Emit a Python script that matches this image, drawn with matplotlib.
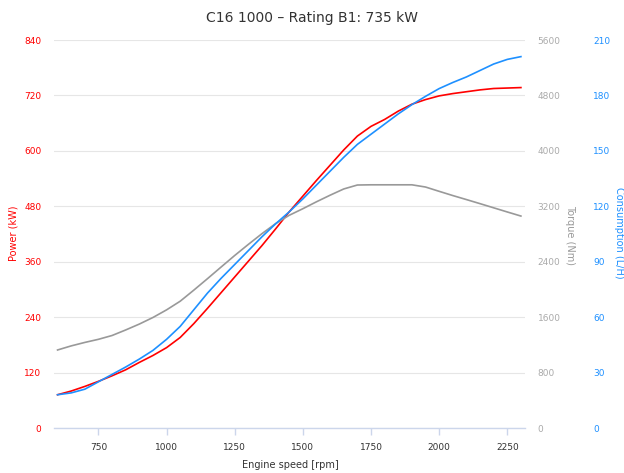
import matplotlib
matplotlib.use("Agg")
import matplotlib.pyplot as plt

# engine speed in rpm
rpm = [600, 650, 700, 750, 800, 850, 900, 950, 1000, 1050, 1100, 1150,
       1200, 1250, 1300, 1350, 1400, 1450, 1500, 1550, 1600, 1650, 1700,
       1750, 1800, 1850, 1900, 1950, 2000, 2050, 2100, 2150, 2200, 2250, 2300]

# values
power = [72, 80, 90, 101, 113, 126, 142, 157, 174, 196, 226, 259,
         293, 327, 361, 395, 431, 468, 502, 536, 569, 602, 632,
         653, 668, 686, 701, 711, 719, 724, 728, 732, 735, 736, 737]
torque = [1126, 1185, 1235, 1280, 1335, 1415, 1500, 1595, 1705, 1830, 1990, 2155,
          2323, 2490, 2650, 2805, 2950, 3070, 3165, 3265, 3360, 3450, 3507,
          3510, 3510, 3510, 3510, 3478, 3416, 3355, 3297, 3238, 3178, 3118, 3059]
consumption = [18, 19, 21, 25, 29, 33, 37.3, 42, 48, 55, 64, 73,
               81, 88.5, 96, 103.5, 110.5, 117, 124, 131.5, 139, 146.5, 153.5,
               159, 164.5, 170, 175, 179.5, 183.7, 187, 190, 193.5, 197, 199.5, 201]

x_ticks = [750, 1000, 1250, 1500, 1750, 2000, 2250]
power_ticks = [0, 120, 240, 360, 480, 600, 720, 840]
torque_ticks = [0, 800, 1600, 2400, 3200, 4000, 4800, 5600]
cons_ticks = [0, 30, 60, 90, 120, 150, 180, 210]

red = "#ff0000"
grey = "#999999"
blue = "#1e90ff"

W, H = 624, 473
fig = plt.figure(figsize=(W / 100, H / 100), dpi=100)
ax = fig.add_axes([54 / W, 1 - 428 / H, (525 - 54) / W, (428 - 40) / H])
ax2 = ax.twinx()
ax3 = ax.twinx()

ax.plot(rpm, power, color=red, lw=1.2, zorder=3)
ax2.plot(rpm, torque, color=grey, lw=1.2)
ax3.plot(rpm, consumption, color=blue, lw=1.2)

ax.set_xlim(587, 2315)
ax.set_ylim(0, 840)
ax2.set_ylim(0, 5600)
ax3.set_ylim(0, 210)

for a in (ax, ax2, ax3):
    for s in a.spines.values():
        s.set_visible(False)

ax.spines["bottom"].set_visible(True)
ax.spines["bottom"].set_color("#ccd6eb")
ax.spines["bottom"].set_linewidth(1)

ax.set_xticks(x_ticks)
ax.tick_params(axis="x", colors="#ccd6eb", length=5, width=1, labelsize=6.5,
               labelcolor="#333333", pad=6)

ax.set_yticks(power_ticks)
ax.tick_params(axis="y", length=0, labelsize=6.5, labelcolor=red, pad=9)
ax.grid(axis="y", color="#e6e6e6", lw=0.8)
ax.set_axisbelow(True)

ax2.set_yticks(torque_ticks)
ax2.tick_params(axis="y", length=0, labelsize=6.5, labelcolor="#aaaaaa", pad=9)
ax3.set_yticks(cons_ticks)
ax3.tick_params(axis="y", length=0, labelsize=6.5, labelcolor=blue, pad=49)

fig.text(312 / W, 1 - 18 / H, "C16 1000 – Rating B1: 735 kW", ha="center", va="center",
         fontsize=10, color="#333333")
fig.text(290 / W, 1 - 465 / H, "Engine speed [rpm]", ha="center", va="center",
         fontsize=7, color="#333333")
fig.text(14 / W, 1 - 233 / H, "Power (kW)", ha="center", va="center",
         rotation=90, fontsize=7, color=red)
fig.text(570 / W, 1 - 235 / H, "Torque (Nm)", ha="center", va="center",
         rotation=270, fontsize=7, color=grey)
fig.text(619 / W, 1 - 233 / H, "Consumption (L/H)", ha="center", va="center",
         rotation=270, fontsize=7, color=blue)

fig.savefig("out.png", dpi=100)
